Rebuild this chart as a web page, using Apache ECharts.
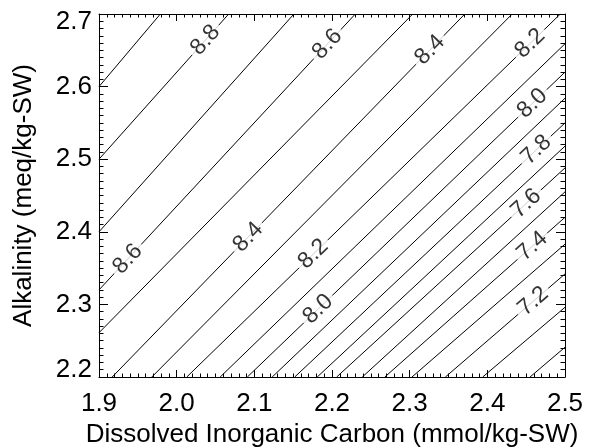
<!DOCTYPE html>
<html>
<head>
<meta charset="utf-8">
<script src="https://cdn.jsdelivr.net/npm/echarts@6/dist/echarts.min.js"></script>
<style>
  html, body { margin: 0; padding: 0; background: #fff; }
  #main { width: 591px; height: 447px; }
</style>
</head>
<body>
<div id="main"></div>
<script>
// pH contour levels and where each line crosses the plot frame (DIC, Alk)
const levels = [8.9, 8.8, 8.7, 8.6, 8.5, 8.4, 8.3, 8.2, 8.1, 8.0, 7.9, 7.8, 7.7, 7.6, 7.5, 7.4, 7.3, 7.2, 7.1, 7.0]
const startX = [1.900, 1.900, 1.900, 1.900, 1.900, 1.917, 1.968, 2.013, 2.056, 2.091, 2.123, 2.152, 2.181, 2.206, 2.239, 2.268, 2.303, 2.346, 2.394, 2.455]
const startY = [2.600, 2.500, 2.400, 2.320, 2.261, 2.200, 2.200, 2.200, 2.200, 2.200, 2.200, 2.200, 2.200, 2.200, 2.200, 2.200, 2.200, 2.200, 2.200, 2.200]
const endX = [1.979, 2.067, 2.151, 2.230, 2.304, 2.371, 2.432, 2.494, 2.500, 2.500, 2.500, 2.500, 2.500, 2.500, 2.500, 2.500, 2.500, 2.500, 2.500, 2.500]
const endY = [2.700, 2.700, 2.700, 2.700, 2.700, 2.700, 2.700, 2.700, 2.659, 2.620, 2.584, 2.550, 2.518, 2.488, 2.455, 2.420, 2.383, 2.342, 2.296, 2.241]

// contour labels: which level and at what DIC they sit
const labelLevel = [8.8, 8.6, 8.6, 8.4, 8.4, 8.2, 8.2, 8.0, 8.0, 7.8, 7.6, 7.4, 7.2]
const labelX = [2.037, 2.194, 1.937, 2.326, 2.092, 2.455, 2.176, 2.458, 2.182, 2.463, 2.450, 2.458, 2.459]

const xTicks = [1.9, 2.0, 2.1, 2.2, 2.3, 2.4, 2.5]
const yTicks = [2.2, 2.3, 2.4, 2.5, 2.6, 2.7]

const FONT = '"Liberation Sans", Arial, Helvetica, sans-serif'

const chart = echarts.init(document.getElementById('main'))

function makeAxis(isX, extra) {
  const ticks = isX ? xTicks : yTicks
  return Object.assign({
    type: 'value',
    min: ticks[0],
    max: ticks[ticks.length - 1],
    interval: 0.1,
    axisLine: { show: true, onZero: false, lineStyle: { color: '#000', width: 1 } },
    axisTick: { show: true, inside: true, length: isX ? 7 : 9, lineStyle: { color: '#000', width: 1 } },
    minorTick: { show: true, splitNumber: 10, length: isX ? 3.5 : 4.5, lineStyle: { color: '#000', width: 1 } },
    splitLine: { show: false },
    axisLabel: { show: false }
  }, extra)
}

const lineSeries = levels.map((lv, i) => ({
  name: 'pH ' + lv.toFixed(1),
  type: 'line',
  xAxisIndex: 0,
  yAxisIndex: 0,
  showSymbol: false,
  symbol: 'none',
  silent: true,
  lineStyle: { color: '#000', width: 1 },
  data: [[startX[i], startY[i]], [endX[i], endY[i]]]
}))

chart.setOption({
  animation: false,
  backgroundColor: '#fff',
  grid: { left: 99, right: 26, top: 14, bottom: 70, outerBoundsMode: 'none', containLabel: false },
  xAxis: [
    makeAxis(true, {
      position: 'bottom',
      axisLabel: {
        show: true, fontSize: 26, color: '#000', fontFamily: FONT, margin: 14,
        formatter: v => v.toFixed(1)
      },
      name: 'Dissolved Inorganic Carbon (mmol/kg-SW)',
      nameLocation: 'middle',
      nameGap: 41,
      nameTextStyle: { fontSize: 26, color: '#000', fontFamily: FONT }
    }),
    makeAxis(true, { position: 'top' })
  ],
  yAxis: [
    makeAxis(false, {
      position: 'left',
      axisLabel: {
        show: true, fontSize: 26, color: '#000', fontFamily: FONT, margin: 7,
        lineHeight: 15,
        verticalAlignMaxLabel: 'top',
        verticalAlignMinLabel: 'bottom',
        formatter: v => v.toFixed(1)
      },
      name: 'Alkalinity (meq/kg-SW)',
      nameLocation: 'middle',
      nameGap: 62,
      nameTextStyle: { fontSize: 26, color: '#000', fontFamily: FONT }
    }),
    makeAxis(false, { position: 'right' })
  ],
  series: lineSeries
})

// place labels on the lines, rotated along them
const labelData = labelLevel.map((lv, i) => {
  const k = levels.indexOf(lv)
  const t = (labelX[i] - startX[k]) / (endX[k] - startX[k])
  const y = startY[k] + t * (endY[k] - startY[k])
  const p0 = chart.convertToPixel({ xAxisIndex: 0, yAxisIndex: 0 }, [startX[k], startY[k]])
  const p1 = chart.convertToPixel({ xAxisIndex: 0, yAxisIndex: 0 }, [endX[k], endY[k]])
  const ang = Math.atan2(p0[1] - p1[1], p1[0] - p0[0]) * 180 / Math.PI
  return {
    value: [labelX[i], y],
    label: { rotate: ang, formatter: lv.toFixed(1) }
  }
})

chart.setOption({
  series: lineSeries.concat([{
    name: 'labels',
    type: 'scatter',
    xAxisIndex: 0,
    yAxisIndex: 0,
    symbolSize: 0,
    silent: true,
    z: 10,
    label: {
      show: true,
      position: 'inside',
      fontSize: 23,
      lineHeight: 17,
      color: '#000',
      fontFamily: FONT,
      backgroundColor: '#fff',
      padding: [1, 4]
    },
    data: labelData
  }])
})
</script>
</body>
</html>
